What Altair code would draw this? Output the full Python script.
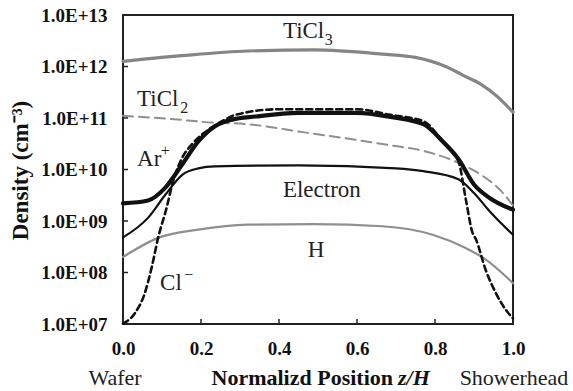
import altair as alt
import pandas as pd

# ---------------- data ----------------
tick_x = [0.0, 0.2, 0.4, 0.6, 0.8, 1.0]
tick_y = [1e7, 1e8, 1e9, 1e10, 1e11, 1e12, 1e13]
inner_x_ticks = [0.2, 0.4, 0.6, 0.8]
inner_y_ticks = [1e8, 1e9, 1e10, 1e11, 1e12]

ticl3_x = [0.0, 0.15, 0.32, 0.49, 0.665, 0.75, 0.83, 0.88, 0.92, 0.96, 0.98, 1.0]
ticl3_y = [1.26e12, 1.62e12, 2.0e12, 2.1e12, 1.74e12, 1.5e12, 9.8e11, 6.3e11, 4.4e11, 2.6e11, 1.86e11, 1.3e11]

ticl2_x = [0.0, 0.12, 0.236, 0.30, 0.47, 0.686, 0.77, 0.86, 0.918, 0.97, 1.0]
ticl2_y = [1.1e11, 9.6e10, 8.1e10, 7.8e10, 5.2e10, 2.95e10, 2.3e10, 1.35e10, 7.9e9, 3.8e9, 2.0e9]

arp_x = [0.0, 0.064, 0.108, 0.152, 0.193, 0.236, 0.28, 0.34, 0.45, 0.60, 0.686, 0.77, 0.82, 0.86, 0.90, 0.94, 1.0]
arp_y = [2.2e9, 2.5e9, 4.4e9, 1.26e10, 3.5e10, 6.9e10, 9.3e10, 1.07e11, 1.26e11, 1.26e11, 1.05e11, 7.6e10, 3.5e10, 1.6e10, 5.1e9, 2.8e9, 1.66e9]

elec_x = [0.0, 0.064, 0.108, 0.152, 0.193, 0.236, 0.45, 0.70, 0.77, 0.86, 0.90, 0.94, 1.0]
elec_y = [4.8e8, 1.15e9, 3.2e9, 7.9e9, 1.05e10, 1.15e10, 1.2e10, 1.05e10, 9.3e9, 6.5e9, 3.5e9, 1.55e9, 5.4e8]

h_x = [0.0, 0.09, 0.193, 0.32, 0.49, 0.665, 0.794, 0.88, 0.925, 1.0]
h_y = [2.0e8, 4.7e8, 6.8e8, 8.5e8, 8.7e8, 7.9e8, 5.4e8, 2.95e8, 1.9e8, 6.2e7]

cl_x = [0.0, 0.03, 0.056, 0.074, 0.09, 0.113, 0.126, 0.152, 0.177, 0.22, 0.262, 0.288,
        0.40, 0.60, 0.686, 0.77, 0.82, 0.86, 0.88, 0.895, 0.905, 0.93, 0.956, 0.982, 1.0]
cl_y = [1.02e7, 1.6e7, 4.0e7, 1.3e8, 4.7e8, 1.95e9, 5.1e9, 1.7e10, 3.1e10, 6.0e10, 9.3e10, 1.15e11,
        1.48e11, 1.48e11, 1.15e11, 8.7e10, 3.5e10, 1.45e10, 2.4e9, 6.3e8, 4.4e8, 1.12e8, 4.0e7, 1.86e7, 1.29e7]

# curve labels (main text and sub/superscripts), positions in data coordinates
label_text = ["TiCl", "TiCl", "Ar", "Electron", "H", "Cl"]
label_x = [0.410, 0.036, 0.036, 0.410, 0.474, 0.095]
label_y = [3.5e12, 1.7e11, 1.15e10, 2.9e9, 2.0e8, 4.6e7]

small_text = ["3", "2", "+", "\u2212"]
small_x = [0.517, 0.147, 0.097, 0.157]
small_y = [2.6e12, 1.25e11, 1.8e10, 7.2e7]

FONT = "Liberation Serif"
W, H = 390, 309

xscale = alt.Scale(domain=[0, 1], nice=False, zero=False)
yscale = alt.Scale(type="log", domain=[1e7, 1e13], nice=False)

XAX = alt.Axis(values=tick_x, format=".1f", ticks=False, domain=False, grid=False,
               labelFont=FONT, labelFontSize=19, labelFontWeight="bold",
               labelColor="#111", labelPadding=15, labelFlush=False, title=None)
YAX = alt.Axis(values=tick_y, ticks=False, domain=False, grid=False,
               labelExpr="'1.0E+' + (round(log(datum.value)/LN10) < 10 ? '0' : '') + round(log(datum.value)/LN10)",
               labelFont=FONT, labelFontSize=19, labelFontWeight="bold",
               labelColor="#111", labelPadding=16, labelFlush=False,
               title="Density (cm\u207b\u00b3)", titleFont=FONT, titleFontSize=23,
               titleFontWeight="bold", titleColor="#111", titleAngle=-90,
               titleX=-103, titleY=155, titleAlign="center", titleBaseline="middle")


def X(field="x:Q"):
    return alt.X(field, scale=xscale, axis=XAX)


def Y(field="y:Q"):
    return alt.Y(field, scale=yscale, axis=YAX)


def line(xs, ys, color, width, dash=None):
    kw = dict(color=color, strokeWidth=width, interpolate="monotone",
              strokeCap="round", strokeJoin="round")
    if dash:
        kw["strokeDash"] = dash
    return alt.Chart(pd.DataFrame({"x": xs, "y": ys})).mark_line(**kw).encode(x=X(), y=Y())


ticl3 = line(ticl3_x, ticl3_y, "#858585", 3.2)
ticl2 = line(ticl2_x, ticl2_y, "#8f8f8f", 2.0, dash=[10, 6])
hline = line(h_x, h_y, "#8f8f8f", 2.2)
elec = line(elec_x, elec_y, "#111111", 2.2)
arp = line(arp_x, arp_y, "#111111", 4.2)
cl = line(cl_x, cl_y, "#111111", 2.6, dash=[6, 4])

# inward tick marks
ytick_layer = alt.Chart(pd.DataFrame({"y": inner_y_ticks})).mark_rule(
    color="#222", strokeWidth=1.5).encode(y=Y(), x=alt.value(0), x2=alt.value(5))
xtick_layer = alt.Chart(pd.DataFrame({"x": inner_x_ticks})).mark_rule(
    color="#222", strokeWidth=1.5).encode(x=X(), y=alt.value(H), y2=alt.value(H - 5))

labels = alt.Chart(pd.DataFrame({"t": label_text, "x": label_x, "y": label_y})).mark_text(
    font=FONT, fontSize=23, align="left", baseline="alphabetic", color="#222").encode(
    x=X(), y=Y(), text="t:N")
small = alt.Chart(pd.DataFrame({"t": small_text, "x": small_x, "y": small_y})).mark_text(
    font=FONT, fontSize=16, align="left", baseline="alphabetic", color="#222").encode(
    x=X(), y=Y(), text="t:N")

# bottom annotation row
wafer = alt.Chart(pd.DataFrame({"t": ["Wafer"]})).mark_text(
    font=FONT, fontSize=22, align="center", baseline="alphabetic", color="#222").encode(
    text="t:N", x=alt.value(-8), y=alt.value(370))
shower = alt.Chart(pd.DataFrame({"t": ["Showerhead"]})).mark_text(
    font=FONT, fontSize=22, align="center", baseline="alphabetic", color="#222").encode(
    text="t:N", x=alt.value(391), y=alt.value(370))
npos = alt.Chart(pd.DataFrame({"t": ["Normalizd Position"]})).mark_text(
    font=FONT, fontSize=22, fontWeight="bold", align="right", baseline="alphabetic", color="#111").encode(
    text="t:N", x=alt.value(270), y=alt.value(370))
zh = alt.Chart(pd.DataFrame({"t": ["z/H"]})).mark_text(
    font=FONT, fontSize=22, fontWeight="bold", fontStyle="italic", align="left",
    baseline="alphabetic", color="#111").encode(
    text="t:N", x=alt.value(275), y=alt.value(370))

chart = alt.layer(
    ticl3, ticl2, hline, elec, arp, cl, ytick_layer, xtick_layer,
    labels, small, wafer, shower, npos, zh
).properties(
    width=W, height=H,
    autosize=alt.AutoSizeParams(type="none"),
    padding={"left": 123, "top": 15, "right": 60, "bottom": 67},
    background="white",
).configure_view(stroke="#222", strokeWidth=2)

chart.save("out.html", embed_options={"renderer": "svg", "actions": False})
